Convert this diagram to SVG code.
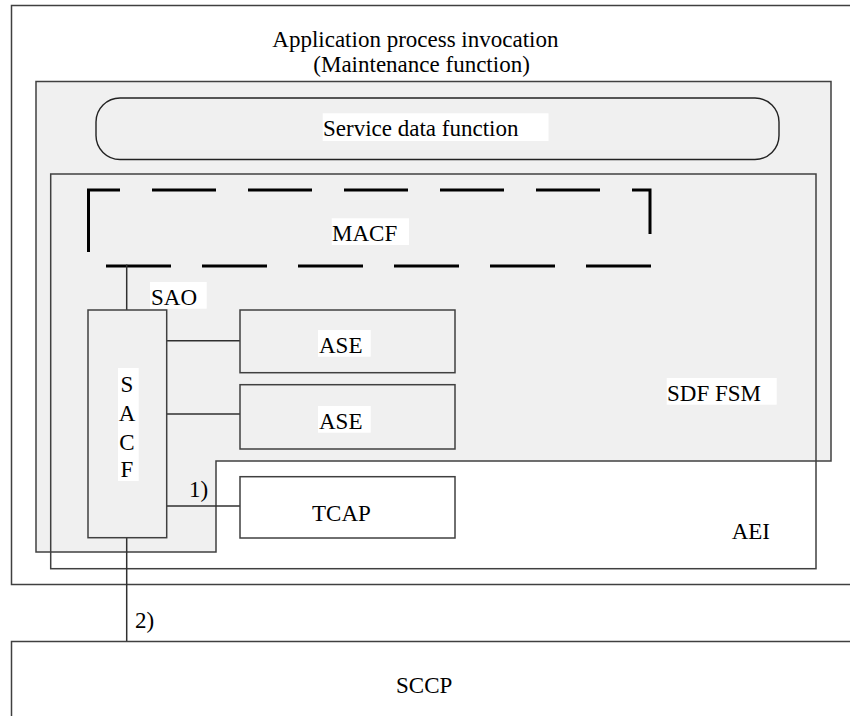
<svg xmlns="http://www.w3.org/2000/svg" width="850" height="716" viewBox="0 0 850 716" font-family="'Liberation Serif', 'Times New Roman', Times, 'DejaVu Serif', serif">
<style>
.box{stroke:#404040;stroke-width:1.5;}
.g{fill:#f0f0f0;}
.w{fill:#ffffff;}
.t{font-family:'Liberation Serif','Times New Roman',Times,'DejaVu Serif',serif;font-size:23px;fill:#000;}
.bg{fill:#ffffff;stroke:none;}
.ln{stroke:#303030;stroke-width:1.5;fill:none;}
.dash{stroke:#000;stroke-width:3;fill:none;}
</style>
<rect width="850" height="716" fill="#ffffff"/>
<g id="api">
<rect class="box w" x="11.5" y="5.5" width="860" height="579"/>
<text class="t" x="272.3" y="46.7">Application process invocation</text>
<text class="t" x="313.3" y="71.7">(Maintenance function)</text>
</g>
<g id="sdf-fsm">
<path class="box g" d="M36,81.5 H831 V461 H216 V552 H36 Z"/>
</g>
<g id="aei">
<rect class="box" fill="none" x="50.7" y="174" width="765.3" height="394.7"/>
<text class="t" x="731.7" y="539.3">AEI</text>
</g>
<g id="sdf-fsm-label">
<rect class="bg" x="666.7" y="378" width="110" height="26.7"/>
<text class="t" x="667" y="400.7">SDF FSM</text>
</g>
<g id="service-data-function">
<rect class="g" x="96" y="98" width="683" height="61.5" rx="24" ry="24" stroke="#222" stroke-width="1.4"/>
<rect class="bg" x="322.7" y="113.3" width="225.8" height="27.7"/>
<text class="t" x="323" y="136">Service data function</text>
</g>
<g id="macf">
<path class="dash" d="M88.5,252 V190 H120 M152,190 H216 M248,190 H312 M344,190 H408 M440,190 H504 M536,190 H600 M632,190 H650 V234 M106,266 H171 M202,266 H267 M298,266 H363 M394,266 H459 M490,266 H555 M586,266 H651"/>
<rect class="bg" x="331.7" y="218.3" width="77.3" height="26.7"/>
<text class="t" x="332" y="241">MACF</text>
</g>
<g id="connectors">
<line class="ln" x1="126.7" y1="264.5" x2="126.7" y2="310"/>
<line class="ln" x1="126.7" y1="537.7" x2="126.7" y2="641.5"/>
<line class="ln" x1="166.7" y1="340.7" x2="240" y2="340.7"/>
<line class="ln" x1="166.7" y1="414" x2="240" y2="414"/>
<line class="ln" x1="166.7" y1="506" x2="240" y2="506"/>
</g>
<g id="sao">
<rect class="bg" x="150" y="282" width="56.7" height="26.7"/>
<text class="t" x="151" y="305">SAO</text>
</g>
<g id="sacf">
<rect class="box g" x="88" y="310" width="78.7" height="227.7"/>
<rect class="bg" x="118" y="368" width="20.7" height="113"/>
<text class="t" text-anchor="middle" x="127" y="392.3">S</text>
<text class="t" text-anchor="middle" x="127" y="420.7">A</text>
<text class="t" text-anchor="middle" x="127" y="450">C</text>
<text class="t" text-anchor="middle" x="127" y="477.3">F</text>
</g>
<g id="ase1">
<rect class="box g" x="240" y="310" width="215" height="62.7"/>
<rect class="bg" x="318" y="330" width="52.7" height="26.7"/>
<text class="t" x="319" y="352.7">ASE</text>
</g>
<g id="ase2">
<rect class="box g" x="240" y="384.7" width="215" height="64.3"/>
<rect class="bg" x="318" y="406" width="52.7" height="26.7"/>
<text class="t" x="319" y="428.7">ASE</text>
</g>
<g id="tcap">
<rect class="box w" x="240" y="476.7" width="215" height="61.3"/>
<text class="t" x="312" y="520.7">TCAP</text>
</g>
<g id="labels">
<text class="t" x="189" y="496.7">1)</text>
<text class="t" x="135" y="628.3">2)</text>
</g>
<g id="sccp">
<rect class="box w" x="11.5" y="641.5" width="860" height="100"/>
<text class="t" x="396" y="693.3">SCCP</text>
</g>
</svg>
